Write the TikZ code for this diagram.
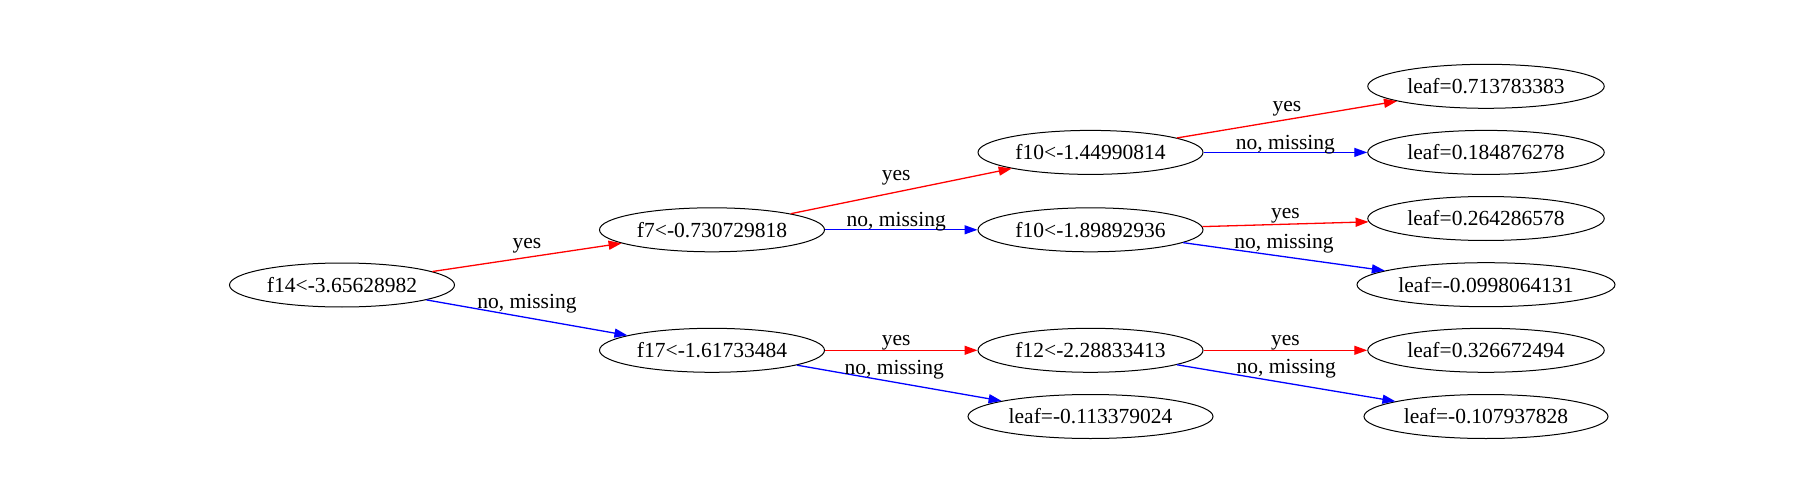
\documentclass[tikz,border=0pt]{standalone}
\usepackage{fontspec}
\setmainfont{Liberation Serif}
\usetikzlibrary{shapes.geometric,arrows.meta}
\begin{document}
\begin{tikzpicture}[x=1pt,y=-1pt,
  tnode/.style={draw, ellipse, line width=1pt, minimum height=44pt, inner sep=0pt, font=\fontsize{21.5}{26}\selectfont},
  yesedge/.style={draw=red, line width=1.3pt, -{Triangle[length=13pt,width=9pt]}},
  noedge/.style={draw=blue, line width=1.3pt, -{Triangle[length=13pt,width=9pt]}},
  lbl/.style={midway, inner sep=0pt, font=\fontsize{21.5}{26}\selectfont, text=black}
]
\fill[white] (0,0) rectangle (1800,500);
\useasboundingbox (0,0) rectangle (1800,500);

\node[tnode, minimum width=225pt] (f14) at (342,285) {f14<-3.65628982};
\node[tnode, minimum width=225pt] (f7) at (712,229.8) {f7<-0.730729818};
\node[tnode, minimum width=225pt] (f17) at (712,350.3) {f17<-1.61733484};
\node[tnode, minimum width=225pt] (f10a) at (1090.5,152.4) {f10<-1.44990814};
\node[tnode, minimum width=225pt] (f10b) at (1090.5,229.8) {f10<-1.89892936};
\node[tnode, minimum width=225pt] (f12) at (1090.5,350.3) {f12<-2.28833413};
\node[tnode, minimum width=245pt] (lm) at (1090.5,416.5) {leaf=-0.113379024};
\node[tnode, minimum width=236.5pt] (l1) at (1486,86.3) {leaf=0.713783383};
\node[tnode, minimum width=236.5pt] (l2) at (1486,152.4) {leaf=0.184876278};
\node[tnode, minimum width=236.5pt] (l3) at (1486,218.5) {leaf=0.264286578};
\node[tnode, minimum width=258pt] (l4) at (1486,284.7) {leaf=-0.0998064131};
\node[tnode, minimum width=236.5pt] (l5) at (1486,350.3) {leaf=0.326672494};
\node[tnode, minimum width=244pt] (l6) at (1486,416.5) {leaf=-0.107937828};

\draw[yesedge] (f14) -- (f7) node[lbl, yshift=12pt] {yes};
\draw[noedge] (f14) -- (f17) node[lbl, yshift=13.5pt] {no, missing};
\draw[yesedge] (f7) -- (f10a) node[lbl, yshift=13pt, xshift=-5pt] {yes};
\draw[noedge] (f7) -- (f10b) node[lbl, yshift=8pt, xshift=-5pt] {no, missing};
\draw[yesedge] (f17) -- (f12) node[lbl, yshift=8pt, xshift=-5pt] {yes};
\draw[noedge] (f17) -- (lm) node[lbl, yshift=13.5pt, xshift=-5pt] {no, missing};
\draw[yesedge] (f10a) -- (l1) node[lbl, yshift=11pt] {yes};
\draw[noedge] (f10a) -- (l2) node[lbl, yshift=8pt] {no, missing};
\draw[yesedge] (f10b) -- (l3) node[lbl, yshift=8pt] {yes};
\draw[noedge] (f10b) -- (l4) node[lbl, yshift=13pt] {no, missing};
\draw[yesedge] (f12) -- (l5) node[lbl, yshift=8pt] {yes};
\draw[noedge] (f12) -- (l6) node[lbl, yshift=14pt] {no, missing};
\end{tikzpicture}
\end{document}
